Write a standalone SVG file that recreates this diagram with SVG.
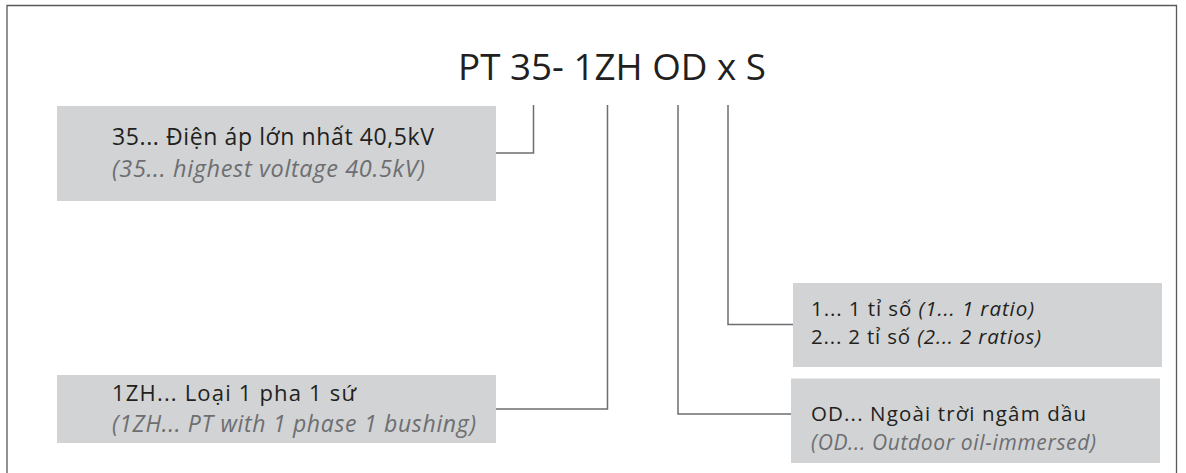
<svg xmlns="http://www.w3.org/2000/svg" width="1186" height="473" viewBox="0 0 1186 473">
<style>
.frame{fill:none;stroke:#58595b;stroke-width:1.3}
.box{fill:#d1d3d4}
.ln{fill:none;stroke:#6d6e71;stroke-width:1.5}
.t{font-family:"Open Sans","Noto Sans",sans-serif;fill:#231f20}
.i{font-family:"Open Sans","Noto Sans",sans-serif;font-style:italic;fill:#6d6e71}
.ti{font-style:italic}
.title{font-family:"Open Sans","Noto Sans",sans-serif;font-size:37px;fill:#231f20}
</style>
<rect width="1186" height="473" fill="#ffffff"/>
<path class="frame" d="M7,473 V5.5 H1176.5 V473"/>
<g id="title"><text class="title" x="458" y="79.5" textLength="308" lengthAdjust="spacingAndGlyphs">PT 35- 1ZH OD x S</text></g>
<g id="connectors">
<path class="ln" d="M496,153 H533.5 V105"/>
<path class="ln" d="M496,409 H607.5 V105"/>
<path class="ln" d="M791,414 H678 V105"/>
<path class="ln" d="M793,324.5 H728 V105"/>
</g>
<g id="node-35">
<rect class="box" x="57" y="106" width="439" height="95"/>
<text class="t" x="112" y="144.5" font-size="23" textLength="322">35... Điện áp lớn nhất 40,5kV</text>
<text class="i" x="112" y="176.5" font-size="23.5" textLength="313">(35... highest voltage 40.5kV)</text>
</g>
<g id="node-1zh">
<rect class="box" x="57" y="375" width="439" height="68"/>
<text class="t" x="112" y="401" font-size="22" textLength="244">1ZH... Loại 1 pha 1 sứ</text>
<text class="i" x="112" y="432" font-size="23" textLength="364">(1ZH... PT with 1 phase 1 bushing)</text>
</g>
<g id="node-ratio">
<rect class="box" x="793" y="283" width="369" height="84"/>
<text class="t" x="811" y="315.5" font-size="20.5" textLength="223">1... 1 tỉ số <tspan class="ti">(1... 1 ratio)</tspan></text>
<text class="t" x="811" y="343.5" font-size="20.5" textLength="230">2... 2 tỉ số <tspan class="ti">(2... 2 ratios)</tspan></text>
</g>
<g id="node-od">
<rect class="box" x="791" y="378.5" width="369" height="84.5"/>
<text class="t" x="811" y="421" font-size="20.5" textLength="275">OD... Ngoài trời ngâm dầu</text>
<text class="i" x="811" y="449.5" font-size="21" textLength="285">(OD... Outdoor oil-immersed)</text>
</g>
</svg>
